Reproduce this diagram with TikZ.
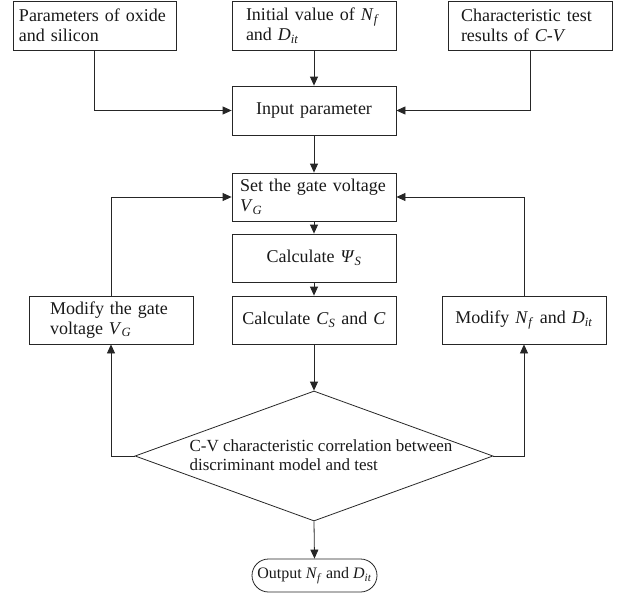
\documentclass[tikz,border=0pt]{standalone}
\usepackage{fontspec}
\setmainfont{Liberation Serif}
\usetikzlibrary{arrows.meta,shapes.geometric}
\newcommand{\sbs}[1]{\textsubscript{\textit{#1}}}
\begin{document}
\begin{tikzpicture}[x=1pt,y=-1pt,
  every node/.style={font=\fontsize{18}{20}\selectfont, text=black!90},
  box/.style={draw=black!85, line width=0.8pt, minimum height=48pt, inner ysep=0pt, align=left},
  cbox/.style={box, align=center, text width=150pt, inner xsep=7pt},
  arr/.style={draw=black!85, line width=0.8pt, -{Triangle[length=9pt,width=8pt]}},
  ln/.style={draw=black!85, line width=0.8pt}]
\useasboundingbox (0,0) rectangle (619,597);

\node[box, minimum height=49pt, text width=151pt, inner xsep=6pt] (b1) at (94.5,25.5) {\mbox{Parameters of oxide}\\\mbox{and silicon}};
\node[box, minimum height=49pt, text width=136pt, inner xsep=14pt] (b2) at (314,25.5) {\mbox{Initial value of \textit{N}\sbs{f}}\\\mbox{and \textit{D}\sbs{it}}};
\node[box, minimum height=49pt, text width=138pt, inner xsep=13pt] (b3) at (530,25.5) {\mbox{Characteristic test}\\\mbox{results of \textit{C-V}}};
\node[cbox, minimum height=49pt] (inp) at (314,110.5) {\mbox{Input parameter}};
\node[box, text width=148pt, inner xsep=8pt] (set) at (314,197) {\mbox{Set the gate voltage}\\\textit{V}\sbs{G}};
\node[cbox] (psi) at (314,258) {\mbox{Calculate \textit{Ψ}\sbs{S}}};
\node[cbox] (cs) at (314,320) {\mbox{Calculate \textit{C}\sbs{S} and \textit{C}}};
\node[box, text width=122pt, inner xsep=21pt] (modg) at (111,320) {\mbox{Modify the gate}\\\mbox{voltage \textit{V}\sbs{G}}};
\node[cbox] (modn) at (524,320) {\mbox{Modify \textit{N}\sbs{f} and \textit{D}\sbs{it}}};
\node[diamond, ln, minimum width=358pt, minimum height=130pt, inner sep=0pt,
  label={[align=left, font=\fontsize{17}{19}\selectfont, xshift=7pt, yshift=1pt]center:C-V characteristic correlation between\\discriminant model and test}] (dec) at (314,456) {};
\node[ln, rounded corners=16.5pt, minimum width=125pt, minimum height=33pt, inner sep=0pt, font=\fontsize{16}{18}\selectfont] (out) at (314.5,575.5) {Output \textit{N}\sbs{f} and \textit{D}\sbs{it}};

\draw[arr] (b1.south) |- (inp.west);
\draw[arr] (b3.south) |- (inp.east);
\draw[arr] (b2.south) -- (inp.north);
\draw[arr] (inp.south) -- (set.north);
\draw[arr] (set.south) -- (psi.north);
\draw[arr] (psi.south) -- (cs.north);
\draw[arr] (cs.south) -- (dec.north);
\draw[arr] (dec.west) -| (modg.south);
\draw[arr] (dec.east) -| (modn.south);
\draw[arr] (modg.north) |- (set.west);
\draw[arr] (modn.north) |- (set.east);
\draw[arr] (dec.south) -- (out.north);
\end{tikzpicture}
\end{document}
